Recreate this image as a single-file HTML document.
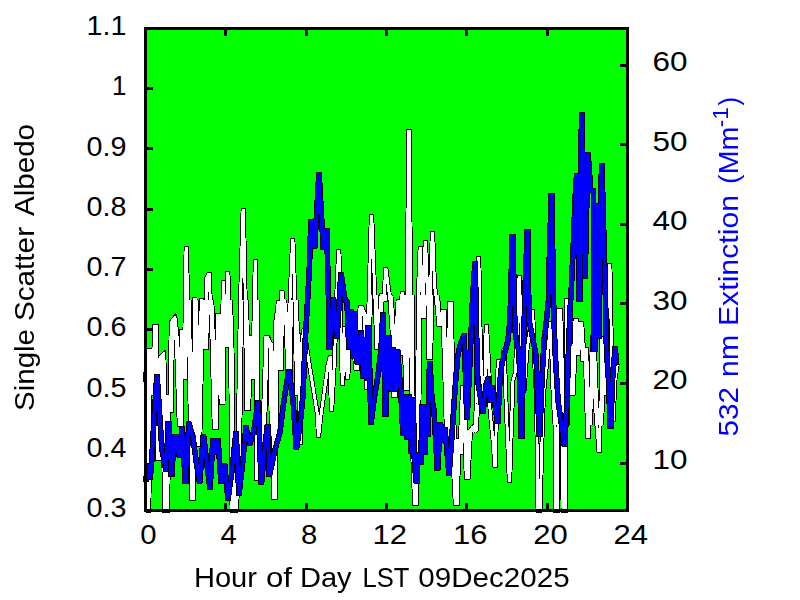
<!DOCTYPE html>
<html><head><meta charset="utf-8"><title>Single Scatter Albedo / Extinction</title>
<style>html,body{margin:0;padding:0;background:#fff;}svg{display:block;}text{font-family:"Liberation Sans",sans-serif;}</style></head>
<body>
<svg width="800" height="600" viewBox="0 0 800 600">
<rect x="0" y="0" width="800" height="600" fill="#ffffff"/>
<rect x="144" y="27" width="485" height="485" fill="#00ff00"/>
<defs><clipPath id="c"><rect x="144" y="27" width="485" height="485"/></clipPath><clipPath id="ck"><rect x="144" y="27" width="485" height="486"/></clipPath></defs>
<g shape-rendering="crispEdges" fill="#000">
<rect x="144" y="30" width="3" height="6"/><rect x="144" y="503" width="3" height="6"/><rect x="224" y="30" width="3" height="6"/><rect x="224" y="503" width="3" height="6"/><rect x="305" y="30" width="3" height="6"/><rect x="305" y="503" width="3" height="6"/><rect x="385" y="30" width="3" height="6"/><rect x="385" y="503" width="3" height="6"/><rect x="465" y="30" width="3" height="6"/><rect x="465" y="503" width="3" height="6"/><rect x="546" y="30" width="3" height="6"/><rect x="546" y="503" width="3" height="6"/><rect x="626" y="30" width="3" height="6"/><rect x="626" y="503" width="3" height="6"/>
<rect x="147" y="509" width="6" height="3"/><rect x="147" y="449" width="6" height="3"/><rect x="147" y="388" width="6" height="3"/><rect x="147" y="328" width="6" height="3"/><rect x="147" y="268" width="6" height="3"/><rect x="147" y="208" width="6" height="3"/><rect x="147" y="147" width="6" height="3"/><rect x="147" y="87" width="6" height="3"/><rect x="147" y="27" width="6" height="3"/>
<rect x="620" y="462" width="6" height="3"/><rect x="620" y="382" width="6" height="3"/><rect x="620" y="302" width="6" height="3"/><rect x="620" y="223" width="6" height="3"/><rect x="620" y="143" width="6" height="3"/><rect x="620" y="64" width="6" height="3"/>
</g>
<g shape-rendering="crispEdges" fill="none" stroke-linejoin="miter" stroke-miterlimit="3" stroke-linecap="square">
<defs><clipPath id="cw"><rect x="153" y="300" width="147" height="213"/><rect x="355" y="295" width="107" height="218"/><rect x="553" y="305" width="53" height="120"/><rect x="462" y="405" width="18" height="108"/></clipPath></defs>
<g clip-path="url(#ck)"><polyline points="146.0,376.0 147.2,350.0 147.8,350.0 148.4,515.0 148.9,515.0 150.5,350.0 151.0,350.0 152.2,394.0 152.8,394.0 154.5,326.0 155.0,326.0 157.2,458.5 157.8,458.5 160.5,357.0 162.5,355.0 164.5,515.0 166.2,515.0 167.6,396.0 168.1,396.0 169.2,411.0 169.8,411.0 171.2,322.0 173.7,319.0 176.5,345.0 179.2,425.0 179.8,425.0 181.2,331.5 181.8,331.5 183.8,378.0 184.2,378.0 186.0,248.0 186.5,248.0 189.5,380.0 191.8,498.5 192.2,498.5 194.6,299.0 195.1,299.0 197.8,444.5 198.2,444.5 201.2,300.0 201.8,300.0 204.8,348.0 205.2,348.0 206.5,278.5 208.8,274.0 209.2,274.0 212.0,340.0 214.2,428.0 214.8,428.0 217.6,315.0 218.1,315.0 221.1,403.0 221.6,403.0 223.2,282.0 223.8,282.0 225.2,346.0 225.8,346.0 227.5,273.0 228.0,273.0 230.5,340.0 232.0,515.0 234.0,515.0 236.0,494.0 238.0,460.0 239.5,350.0 241.0,280.0 243.0,210.0 243.5,210.0 245.3,300.0 246.8,408.5 247.2,408.5 249.2,337.5 249.8,337.5 252.2,377.5 252.8,377.5 255.2,261.0 255.7,261.0 256.8,479.0 257.2,479.0 261.0,455.0 263.0,430.0 265.9,337.5 266.4,337.5 268.7,342.5 270.3,345.0 271.2,434.5 271.8,434.5 272.6,352.0 273.1,352.0 273.6,498.0 274.1,498.0 275.3,325.0 277.0,312.5 278.2,302.5 278.8,302.5 279.2,368.5 279.8,368.5 281.8,292.0 282.2,292.0 286.0,325.0 288.2,380.0 288.8,380.0 290.0,300.0 292.5,240.0 293.0,240.0 295.7,325.0 296.2,394.0 296.8,394.0 297.8,335.0 298.2,335.0 299.8,443.0 300.2,443.0 302.0,340.0 303.8,330.0 304.2,330.0 307.0,350.0 317.5,415.0 318.2,435.5 318.8,435.5 321.0,415.0 328.0,365.0 329.8,357.5 330.2,357.5 331.2,410.0 331.8,410.0 334.5,360.0 336.5,300.0 338.5,251.0 339.0,251.0 341.0,330.0 342.2,383.5 342.8,383.5 344.8,328.5 345.2,328.5 347.2,378.0 347.8,378.0 350.0,345.0 351.8,335.0 352.2,335.0 355.8,368.5 356.2,368.5 360.0,307.5 360.5,307.5 364.5,316.5 366.2,388.0 366.8,388.0 369.0,300.0 371.2,216.0 371.8,216.0 375.0,300.0 376.8,347.5 377.2,347.5 381.0,295.5 381.5,295.5 383.2,300.0 383.8,300.0 385.6,269.0 386.1,269.0 390.0,300.0 392.0,330.0 393.8,396.0 394.2,396.0 396.0,330.0 398.0,301.0 398.5,301.0 399.8,353.5 400.2,353.5 402.0,293.0 402.5,293.0 405.8,389.0 406.2,389.0 407.5,250.0 408.8,131.5 409.2,131.5 410.8,300.0 411.5,392.5 412.5,450.0 414.5,503.5 415.0,503.5 417.5,410.0 418.0,345.0 418.5,290.0 420.0,248.8 420.5,248.8 422.8,316.5 423.2,316.5 425.1,242.0 425.6,242.0 428.0,300.0 428.8,357.5 429.2,357.5 430.5,290.0 432.2,233.8 432.8,233.8 434.5,285.0 436.5,300.0 438.8,325.0 439.2,325.0 442.2,311.5 442.8,311.5 444.5,365.0 446.0,420.0 447.2,452.0 447.8,452.0 449.2,303.0 449.8,303.0 452.0,400.0 454.0,480.0 455.2,504.0 455.8,504.0 457.8,440.0 458.2,440.0 459.2,453.0 459.8,453.0 462.5,387.5 463.0,387.5 466.2,477.5 466.8,477.5 469.0,432.0 472.0,428.0 474.5,432.0 476.5,403.5 477.5,300.0 478.4,258.8 478.9,258.8 480.3,340.0 481.5,372.0 484.2,393.5 484.8,393.5 486.1,326.0 486.6,326.0 489.0,370.0 490.0,410.0 493.0,440.0 494.8,465.5 495.2,465.5 497.0,395.0 498.2,361.0 498.8,361.0 500.5,375.0 502.0,372.0 503.8,350.0 504.2,350.0 506.0,400.0 508.0,450.0 509.2,480.5 509.8,480.5 511.0,440.0 513.0,380.0 515.0,374.5 517.0,340.0 519.0,277.0 519.5,277.0 521.5,340.0 523.8,390.0 524.2,390.0 527.0,350.0 530.0,330.0 532.2,311.5 532.8,311.5 534.0,350.0 536.5,400.0 538.0,515.0 540.0,515.0 542.0,440.0 543.5,395.0 546.0,370.0 549.0,340.0 550.2,323.5 550.8,323.5 553.3,400.0 555.3,430.0 555.6,515.0 557.4,515.0 558.8,310.5 559.2,310.5 562.5,430.0 563.0,515.0 565.5,515.0 566.5,350.0 566.4,300.5 566.9,300.5 569.0,350.0 571.2,393.5 571.8,393.5 575.0,320.0 575.5,320.0 576.8,353.5 577.2,353.5 579.8,323.0 580.2,323.0 582.8,360.0 583.2,360.0 584.8,349.5 585.2,349.5 586.5,400.0 587.8,437.0 588.2,437.0 590.0,400.0 591.5,380.0 592.2,337.5 592.8,337.5 595.0,400.0 598.8,450.5 599.2,450.5 601.0,400.0 601.8,338.0 602.2,338.0 604.8,393.5 605.2,393.5 607.0,330.0 609.5,265.5 610.0,265.5 611.5,350.0 612.8,420.0 613.2,420.0 615.0,380.0 617.0,366.0" stroke="#000" stroke-width="4.8"/></g>
<g clip-path="url(#ck)"><polyline clip-path="url(#cw)" points="147.5,376.0 148.8,350.0 149.2,350.0 149.9,515.0 150.4,515.0 152.0,350.0 152.5,350.0 153.8,394.0 154.2,394.0 156.0,326.0 156.5,326.0 158.8,458.5 159.2,458.5 162.0,357.0 164.0,355.0 166.0,515.0 167.7,515.0 169.1,396.0 169.6,396.0 170.8,411.0 171.2,411.0 172.7,322.0 175.2,319.0 178.0,345.0 180.8,425.0 181.2,425.0 182.8,331.5 183.2,331.5 185.2,378.0 185.8,378.0 187.5,248.0 188.0,248.0 191.0,380.0 193.2,498.5 193.8,498.5 196.1,299.0 196.6,299.0 199.2,444.5 199.8,444.5 202.8,300.0 203.2,300.0 206.2,348.0 206.8,348.0 208.0,278.5 210.2,274.0 210.8,274.0 213.5,340.0 215.8,428.0 216.2,428.0 219.1,315.0 219.6,315.0 222.6,403.0 223.1,403.0 224.8,282.0 225.2,282.0 226.8,346.0 227.2,346.0 229.0,273.0 229.5,273.0 232.0,340.0 233.5,515.0 235.5,515.0 237.5,494.0 239.5,460.0 241.0,350.0 242.5,280.0 244.5,210.0 245.0,210.0 246.8,300.0 248.2,408.5 248.8,408.5 250.8,337.5 251.2,337.5 253.8,377.5 254.2,377.5 256.6,261.0 257.1,261.0 258.2,479.0 258.8,479.0 262.5,455.0 264.5,430.0 267.4,337.5 267.9,337.5 270.2,342.5 271.8,345.0 272.8,434.5 273.2,434.5 274.1,352.0 274.6,352.0 275.1,498.0 275.6,498.0 276.8,325.0 278.5,312.5 279.8,302.5 280.2,302.5 280.8,368.5 281.2,368.5 283.2,292.0 283.8,292.0 287.5,325.0 289.8,380.0 290.2,380.0 291.5,300.0 294.0,240.0 294.5,240.0 297.2,325.0 297.8,394.0 298.2,394.0 299.2,335.0 299.8,335.0 301.2,443.0 301.8,443.0 303.5,340.0 305.2,330.0 305.8,330.0 308.5,350.0 319.0,415.0 319.8,435.5 320.2,435.5 322.5,415.0 329.5,365.0 331.2,357.5 331.8,357.5 332.8,410.0 333.2,410.0 336.0,360.0 338.0,300.0 340.0,251.0 340.5,251.0 342.5,330.0 343.8,383.5 344.2,383.5 346.2,328.5 346.8,328.5 348.8,378.0 349.2,378.0 351.5,345.0 353.2,335.0 353.8,335.0 357.2,368.5 357.8,368.5 361.5,307.5 362.0,307.5 366.0,316.5 367.8,388.0 368.2,388.0 370.5,300.0 372.8,216.0 373.2,216.0 376.5,300.0 378.2,347.5 378.8,347.5 382.5,295.5 383.0,295.5 384.8,300.0 385.2,300.0 387.1,269.0 387.6,269.0 391.5,300.0 393.5,330.0 395.2,396.0 395.8,396.0 397.5,330.0 399.5,301.0 400.0,301.0 401.2,353.5 401.8,353.5 403.5,293.0 404.0,293.0 407.2,389.0 407.8,389.0 409.0,250.0 410.2,131.5 410.8,131.5 412.3,300.0 413.0,392.5 414.0,450.0 416.0,503.5 416.5,503.5 419.0,410.0 419.5,345.0 420.0,290.0 421.5,248.8 422.0,248.8 424.2,316.5 424.8,316.5 426.6,242.0 427.1,242.0 429.5,300.0 430.2,357.5 430.8,357.5 432.0,290.0 433.8,233.8 434.2,233.8 436.0,285.0 438.0,300.0 440.2,325.0 440.8,325.0 443.8,311.5 444.2,311.5 446.0,365.0 447.5,420.0 448.8,452.0 449.2,452.0 450.8,303.0 451.2,303.0 453.5,400.0 455.5,480.0 456.8,504.0 457.2,504.0 459.2,440.0 459.8,440.0 460.8,453.0 461.2,453.0 464.0,387.5 464.5,387.5 467.8,477.5 468.2,477.5 470.5,432.0 473.5,428.0 476.0,432.0 478.0,403.5 479.0,300.0 479.9,258.8 480.4,258.8 481.8,340.0 483.0,372.0 485.8,393.5 486.2,393.5 487.6,326.0 488.1,326.0 490.5,370.0 491.5,410.0 494.5,440.0 496.2,465.5 496.8,465.5 498.5,395.0 499.8,361.0 500.2,361.0 502.0,375.0 503.5,372.0 505.2,350.0 505.8,350.0 507.5,400.0 509.5,450.0 510.8,480.5 511.2,480.5 512.5,440.0 514.5,380.0 516.5,374.5 518.5,340.0 520.5,277.0 521.0,277.0 523.0,340.0 525.2,390.0 525.8,390.0 528.5,350.0 531.5,330.0 533.8,311.5 534.2,311.5 535.5,350.0 538.0,400.0 539.5,515.0 541.5,515.0 543.5,440.0 545.0,395.0 547.5,370.0 550.5,340.0 551.8,323.5 552.2,323.5 554.8,400.0 556.8,430.0 557.1,515.0 558.9,515.0 560.2,310.5 560.8,310.5 564.0,430.0 564.5,515.0 567.0,515.0 568.0,350.0 567.9,300.5 568.4,300.5 570.5,350.0 572.8,393.5 573.2,393.5 576.5,320.0 577.0,320.0 578.2,353.5 578.8,353.5 581.2,323.0 581.8,323.0 584.2,360.0 584.8,360.0 586.2,349.5 586.8,349.5 588.0,400.0 589.2,437.0 589.8,437.0 591.5,400.0 593.0,380.0 593.8,337.5 594.2,337.5 596.5,400.0 600.2,450.5 600.8,450.5 602.5,400.0 603.2,338.0 603.8,338.0 606.2,393.5 606.8,393.5 608.5,330.0 611.0,265.5 611.5,265.5 613.0,350.0 614.2,420.0 614.8,420.0 616.5,380.0 618.5,366.0" stroke="#000" stroke-width="4.8"/></g>
<g clip-path="url(#c)"><polyline points="146.0,376.0 147.2,350.0 147.8,350.0 148.4,515.0 148.9,515.0 150.5,350.0 151.0,350.0 152.2,394.0 152.8,394.0 154.5,326.0 155.0,326.0 157.2,458.5 157.8,458.5 160.5,357.0 162.5,355.0 164.5,515.0 166.2,515.0 167.6,396.0 168.1,396.0 169.2,411.0 169.8,411.0 171.2,322.0 173.7,319.0 176.5,345.0 179.2,425.0 179.8,425.0 181.2,331.5 181.8,331.5 183.8,378.0 184.2,378.0 186.0,248.0 186.5,248.0 189.5,380.0 191.8,498.5 192.2,498.5 194.6,299.0 195.1,299.0 197.8,444.5 198.2,444.5 201.2,300.0 201.8,300.0 204.8,348.0 205.2,348.0 206.5,278.5 208.8,274.0 209.2,274.0 212.0,340.0 214.2,428.0 214.8,428.0 217.6,315.0 218.1,315.0 221.1,403.0 221.6,403.0 223.2,282.0 223.8,282.0 225.2,346.0 225.8,346.0 227.5,273.0 228.0,273.0 230.5,340.0 232.0,515.0 234.0,515.0 236.0,494.0 238.0,460.0 239.5,350.0 241.0,280.0 243.0,210.0 243.5,210.0 245.3,300.0 246.8,408.5 247.2,408.5 249.2,337.5 249.8,337.5 252.2,377.5 252.8,377.5 255.2,261.0 255.7,261.0 256.8,479.0 257.2,479.0 261.0,455.0 263.0,430.0 265.9,337.5 266.4,337.5 268.7,342.5 270.3,345.0 271.2,434.5 271.8,434.5 272.6,352.0 273.1,352.0 273.6,498.0 274.1,498.0 275.3,325.0 277.0,312.5 278.2,302.5 278.8,302.5 279.2,368.5 279.8,368.5 281.8,292.0 282.2,292.0 286.0,325.0 288.2,380.0 288.8,380.0 290.0,300.0 292.5,240.0 293.0,240.0 295.7,325.0 296.2,394.0 296.8,394.0 297.8,335.0 298.2,335.0 299.8,443.0 300.2,443.0 302.0,340.0 303.8,330.0 304.2,330.0 307.0,350.0 317.5,415.0 318.2,435.5 318.8,435.5 321.0,415.0 328.0,365.0 329.8,357.5 330.2,357.5 331.2,410.0 331.8,410.0 334.5,360.0 336.5,300.0 338.5,251.0 339.0,251.0 341.0,330.0 342.2,383.5 342.8,383.5 344.8,328.5 345.2,328.5 347.2,378.0 347.8,378.0 350.0,345.0 351.8,335.0 352.2,335.0 355.8,368.5 356.2,368.5 360.0,307.5 360.5,307.5 364.5,316.5 366.2,388.0 366.8,388.0 369.0,300.0 371.2,216.0 371.8,216.0 375.0,300.0 376.8,347.5 377.2,347.5 381.0,295.5 381.5,295.5 383.2,300.0 383.8,300.0 385.6,269.0 386.1,269.0 390.0,300.0 392.0,330.0 393.8,396.0 394.2,396.0 396.0,330.0 398.0,301.0 398.5,301.0 399.8,353.5 400.2,353.5 402.0,293.0 402.5,293.0 405.8,389.0 406.2,389.0 407.5,250.0 408.8,131.5 409.2,131.5 410.8,300.0 411.5,392.5 412.5,450.0 414.5,503.5 415.0,503.5 417.5,410.0 418.0,345.0 418.5,290.0 420.0,248.8 420.5,248.8 422.8,316.5 423.2,316.5 425.1,242.0 425.6,242.0 428.0,300.0 428.8,357.5 429.2,357.5 430.5,290.0 432.2,233.8 432.8,233.8 434.5,285.0 436.5,300.0 438.8,325.0 439.2,325.0 442.2,311.5 442.8,311.5 444.5,365.0 446.0,420.0 447.2,452.0 447.8,452.0 449.2,303.0 449.8,303.0 452.0,400.0 454.0,480.0 455.2,504.0 455.8,504.0 457.8,440.0 458.2,440.0 459.2,453.0 459.8,453.0 462.5,387.5 463.0,387.5 466.2,477.5 466.8,477.5 469.0,432.0 472.0,428.0 474.5,432.0 476.5,403.5 477.5,300.0 478.4,258.8 478.9,258.8 480.3,340.0 481.5,372.0 484.2,393.5 484.8,393.5 486.1,326.0 486.6,326.0 489.0,370.0 490.0,410.0 493.0,440.0 494.8,465.5 495.2,465.5 497.0,395.0 498.2,361.0 498.8,361.0 500.5,375.0 502.0,372.0 503.8,350.0 504.2,350.0 506.0,400.0 508.0,450.0 509.2,480.5 509.8,480.5 511.0,440.0 513.0,380.0 515.0,374.5 517.0,340.0 519.0,277.0 519.5,277.0 521.5,340.0 523.8,390.0 524.2,390.0 527.0,350.0 530.0,330.0 532.2,311.5 532.8,311.5 534.0,350.0 536.5,400.0 538.0,515.0 540.0,515.0 542.0,440.0 543.5,395.0 546.0,370.0 549.0,340.0 550.2,323.5 550.8,323.5 553.3,400.0 555.3,430.0 555.6,515.0 557.4,515.0 558.8,310.5 559.2,310.5 562.5,430.0 563.0,515.0 565.5,515.0 566.5,350.0 566.4,300.5 566.9,300.5 569.0,350.0 571.2,393.5 571.8,393.5 575.0,320.0 575.5,320.0 576.8,353.5 577.2,353.5 579.8,323.0 580.2,323.0 582.8,360.0 583.2,360.0 584.8,349.5 585.2,349.5 586.5,400.0 587.8,437.0 588.2,437.0 590.0,400.0 591.5,380.0 592.2,337.5 592.8,337.5 595.0,400.0 598.8,450.5 599.2,450.5 601.0,400.0 601.8,338.0 602.2,338.0 604.8,393.5 605.2,393.5 607.0,330.0 609.5,265.5 610.0,265.5 611.5,350.0 612.8,420.0 613.2,420.0 615.0,380.0 617.0,366.0" stroke="#fff" stroke-width="2.9"/></g>
<g clip-path="url(#c)"><polyline clip-path="url(#cw)" points="147.5,376.0 148.8,350.0 149.2,350.0 149.9,515.0 150.4,515.0 152.0,350.0 152.5,350.0 153.8,394.0 154.2,394.0 156.0,326.0 156.5,326.0 158.8,458.5 159.2,458.5 162.0,357.0 164.0,355.0 166.0,515.0 167.7,515.0 169.1,396.0 169.6,396.0 170.8,411.0 171.2,411.0 172.7,322.0 175.2,319.0 178.0,345.0 180.8,425.0 181.2,425.0 182.8,331.5 183.2,331.5 185.2,378.0 185.8,378.0 187.5,248.0 188.0,248.0 191.0,380.0 193.2,498.5 193.8,498.5 196.1,299.0 196.6,299.0 199.2,444.5 199.8,444.5 202.8,300.0 203.2,300.0 206.2,348.0 206.8,348.0 208.0,278.5 210.2,274.0 210.8,274.0 213.5,340.0 215.8,428.0 216.2,428.0 219.1,315.0 219.6,315.0 222.6,403.0 223.1,403.0 224.8,282.0 225.2,282.0 226.8,346.0 227.2,346.0 229.0,273.0 229.5,273.0 232.0,340.0 233.5,515.0 235.5,515.0 237.5,494.0 239.5,460.0 241.0,350.0 242.5,280.0 244.5,210.0 245.0,210.0 246.8,300.0 248.2,408.5 248.8,408.5 250.8,337.5 251.2,337.5 253.8,377.5 254.2,377.5 256.6,261.0 257.1,261.0 258.2,479.0 258.8,479.0 262.5,455.0 264.5,430.0 267.4,337.5 267.9,337.5 270.2,342.5 271.8,345.0 272.8,434.5 273.2,434.5 274.1,352.0 274.6,352.0 275.1,498.0 275.6,498.0 276.8,325.0 278.5,312.5 279.8,302.5 280.2,302.5 280.8,368.5 281.2,368.5 283.2,292.0 283.8,292.0 287.5,325.0 289.8,380.0 290.2,380.0 291.5,300.0 294.0,240.0 294.5,240.0 297.2,325.0 297.8,394.0 298.2,394.0 299.2,335.0 299.8,335.0 301.2,443.0 301.8,443.0 303.5,340.0 305.2,330.0 305.8,330.0 308.5,350.0 319.0,415.0 319.8,435.5 320.2,435.5 322.5,415.0 329.5,365.0 331.2,357.5 331.8,357.5 332.8,410.0 333.2,410.0 336.0,360.0 338.0,300.0 340.0,251.0 340.5,251.0 342.5,330.0 343.8,383.5 344.2,383.5 346.2,328.5 346.8,328.5 348.8,378.0 349.2,378.0 351.5,345.0 353.2,335.0 353.8,335.0 357.2,368.5 357.8,368.5 361.5,307.5 362.0,307.5 366.0,316.5 367.8,388.0 368.2,388.0 370.5,300.0 372.8,216.0 373.2,216.0 376.5,300.0 378.2,347.5 378.8,347.5 382.5,295.5 383.0,295.5 384.8,300.0 385.2,300.0 387.1,269.0 387.6,269.0 391.5,300.0 393.5,330.0 395.2,396.0 395.8,396.0 397.5,330.0 399.5,301.0 400.0,301.0 401.2,353.5 401.8,353.5 403.5,293.0 404.0,293.0 407.2,389.0 407.8,389.0 409.0,250.0 410.2,131.5 410.8,131.5 412.3,300.0 413.0,392.5 414.0,450.0 416.0,503.5 416.5,503.5 419.0,410.0 419.5,345.0 420.0,290.0 421.5,248.8 422.0,248.8 424.2,316.5 424.8,316.5 426.6,242.0 427.1,242.0 429.5,300.0 430.2,357.5 430.8,357.5 432.0,290.0 433.8,233.8 434.2,233.8 436.0,285.0 438.0,300.0 440.2,325.0 440.8,325.0 443.8,311.5 444.2,311.5 446.0,365.0 447.5,420.0 448.8,452.0 449.2,452.0 450.8,303.0 451.2,303.0 453.5,400.0 455.5,480.0 456.8,504.0 457.2,504.0 459.2,440.0 459.8,440.0 460.8,453.0 461.2,453.0 464.0,387.5 464.5,387.5 467.8,477.5 468.2,477.5 470.5,432.0 473.5,428.0 476.0,432.0 478.0,403.5 479.0,300.0 479.9,258.8 480.4,258.8 481.8,340.0 483.0,372.0 485.8,393.5 486.2,393.5 487.6,326.0 488.1,326.0 490.5,370.0 491.5,410.0 494.5,440.0 496.2,465.5 496.8,465.5 498.5,395.0 499.8,361.0 500.2,361.0 502.0,375.0 503.5,372.0 505.2,350.0 505.8,350.0 507.5,400.0 509.5,450.0 510.8,480.5 511.2,480.5 512.5,440.0 514.5,380.0 516.5,374.5 518.5,340.0 520.5,277.0 521.0,277.0 523.0,340.0 525.2,390.0 525.8,390.0 528.5,350.0 531.5,330.0 533.8,311.5 534.2,311.5 535.5,350.0 538.0,400.0 539.5,515.0 541.5,515.0 543.5,440.0 545.0,395.0 547.5,370.0 550.5,340.0 551.8,323.5 552.2,323.5 554.8,400.0 556.8,430.0 557.1,515.0 558.9,515.0 560.2,310.5 560.8,310.5 564.0,430.0 564.5,515.0 567.0,515.0 568.0,350.0 567.9,300.5 568.4,300.5 570.5,350.0 572.8,393.5 573.2,393.5 576.5,320.0 577.0,320.0 578.2,353.5 578.8,353.5 581.2,323.0 581.8,323.0 584.2,360.0 584.8,360.0 586.2,349.5 586.8,349.5 588.0,400.0 589.2,437.0 589.8,437.0 591.5,400.0 593.0,380.0 593.8,337.5 594.2,337.5 596.5,400.0 600.2,450.5 600.8,450.5 602.5,400.0 603.2,338.0 603.8,338.0 606.2,393.5 606.8,393.5 608.5,330.0 611.0,265.5 611.5,265.5 613.0,350.0 614.2,420.0 614.8,420.0 616.5,380.0 618.5,366.0" stroke="#fff" stroke-width="2.9"/></g>
<g clip-path="url(#c)"><polyline points="146.0,479.0 147.8,466.0 148.2,466.0 149.8,477.0 150.2,477.0 151.5,465.0 154.0,420.0 156.8,376.5 157.2,376.5 160.0,420.0 162.0,450.0 165.8,469.5 166.2,469.5 168.2,424.0 168.8,424.0 171.2,474.5 171.8,474.5 174.2,437.0 174.8,437.0 175.8,451.0 176.2,451.0 177.2,437.0 177.8,437.0 179.2,455.0 179.8,455.0 181.8,429.0 182.2,429.0 185.2,481.0 185.8,481.0 188.8,424.0 189.2,424.0 193.0,437.0 196.0,460.0 199.2,481.0 199.8,481.0 203.2,437.0 203.8,437.0 207.0,465.0 209.8,487.0 210.2,487.0 212.8,441.0 213.2,441.0 215.8,452.0 216.2,452.0 217.8,441.0 218.2,441.0 220.8,481.0 221.2,481.0 224.2,466.0 224.8,466.0 227.8,498.0 228.2,498.0 232.0,470.0 235.8,434.0 236.2,434.0 238.8,493.0 239.2,493.0 243.0,460.0 245.8,428.0 246.2,428.0 249.8,443.0 250.2,443.0 254.0,430.0 257.8,402.5 258.2,402.5 261.1,482.5 261.6,482.5 264.5,450.0 267.2,427.0 267.8,427.0 269.2,474.0 269.8,474.0 275.0,450.0 280.0,432.0 284.0,400.0 288.5,372.0 289.0,372.0 293.0,400.0 296.2,447.0 296.8,447.0 300.0,425.0 303.0,395.0 305.0,345.0 309.3,270.0 310.8,221.5 311.2,221.5 314.2,246.0 314.8,246.0 318.8,174.5 319.2,174.5 323.2,247.0 323.8,247.0 326.2,230.5 326.8,230.5 328.5,300.0 329.2,347.0 329.8,347.0 333.0,300.0 333.5,300.0 336.8,336.0 337.2,336.0 340.8,274.5 341.2,274.5 345.0,300.0 347.0,302.0 348.8,347.0 349.2,347.0 350.8,312.0 351.2,312.0 352.8,356.0 353.2,356.0 354.6,314.0 355.1,314.0 356.3,352.0 357.2,362.0 357.8,362.0 359.0,345.0 360.8,333.0 361.2,333.0 362.8,376.0 363.2,376.0 364.8,340.0 365.2,340.0 366.8,378.0 367.2,378.0 368.2,327.5 368.8,327.5 370.8,422.5 371.2,422.5 374.0,400.0 378.0,375.0 381.0,350.0 382.8,314.5 383.2,314.5 385.2,414.5 385.8,414.5 388.2,338.0 388.8,338.0 390.8,389.0 391.2,389.0 392.8,350.0 393.2,350.0 395.8,389.0 396.2,389.0 397.2,352.0 397.8,352.0 401.0,395.0 402.8,433.0 403.2,433.0 404.8,397.0 405.2,397.0 406.8,437.0 407.2,437.0 408.8,397.0 409.2,397.0 410.8,451.0 411.2,451.0 412.8,400.0 413.2,400.0 414.5,465.0 416.2,481.0 416.8,481.0 418.2,455.0 418.8,455.0 420.2,462.0 420.8,462.0 422.2,407.0 422.8,407.0 424.2,452.0 424.8,452.0 425.8,407.0 426.2,407.0 427.2,434.0 427.8,434.0 429.5,363.5 430.0,363.5 432.0,400.0 434.0,410.0 437.2,468.0 437.8,468.0 440.2,425.0 440.8,425.0 442.8,440.0 443.2,440.0 444.8,430.0 445.2,430.0 448.8,473.0 449.2,473.0 452.0,435.0 455.0,390.0 457.5,358.0 460.0,345.0 463.8,335.5 464.2,335.5 466.8,417.0 467.2,417.0 470.0,360.0 472.5,300.0 474.8,264.0 475.2,264.0 477.5,380.0 480.0,395.0 482.8,411.0 483.2,411.0 486.0,385.0 487.8,379.0 488.2,379.0 489.8,400.0 490.2,400.0 491.8,388.0 492.2,388.0 495.0,405.0 497.2,421.0 497.8,421.0 500.0,380.0 502.0,363.0 505.5,350.0 508.0,340.0 510.0,320.0 512.2,237.0 512.8,237.0 515.0,330.0 517.0,345.0 519.0,350.0 521.2,436.0 521.8,436.0 523.5,350.0 525.0,290.0 527.2,231.5 527.8,231.5 529.0,320.0 532.0,335.0 536.0,355.0 539.2,434.5 539.8,434.5 542.0,380.0 544.0,340.0 546.0,325.0 548.5,300.0 549.5,250.0 551.2,196.0 551.8,196.0 553.5,300.0 555.0,350.0 558.0,400.0 564.2,444.5 564.8,444.5 567.0,400.0 568.5,350.0 570.0,312.0 571.5,285.0 573.5,240.0 575.0,200.0 576.5,176.0 577.0,176.0 579.2,299.5 579.8,299.5 581.5,115.0 582.0,115.0 584.8,276.0 585.2,276.0 587.8,155.2 588.2,155.2 590.8,190.5 593.6,190.5 594.2,349.5 594.8,349.5 596.2,206.0 596.8,206.0 598.2,336.0 598.8,336.0 601.5,166.0 602.0,166.0 605.5,300.0 606.5,350.0 608.5,380.0 610.2,426.0 610.8,426.0 612.5,380.0 615.0,349.0 615.5,349.0 616.0,362.0" stroke="#000" stroke-width="5.7"/></g>
<g clip-path="url(#c)"><polyline points="146.0,479.0 147.8,466.0 148.2,466.0 149.8,477.0 150.2,477.0 151.5,465.0 154.0,420.0 156.8,376.5 157.2,376.5 160.0,420.0 162.0,450.0 165.8,469.5 166.2,469.5 168.2,424.0 168.8,424.0 171.2,474.5 171.8,474.5 174.2,437.0 174.8,437.0 175.8,451.0 176.2,451.0 177.2,437.0 177.8,437.0 179.2,455.0 179.8,455.0 181.8,429.0 182.2,429.0 185.2,481.0 185.8,481.0 188.8,424.0 189.2,424.0 193.0,437.0 196.0,460.0 199.2,481.0 199.8,481.0 203.2,437.0 203.8,437.0 207.0,465.0 209.8,487.0 210.2,487.0 212.8,441.0 213.2,441.0 215.8,452.0 216.2,452.0 217.8,441.0 218.2,441.0 220.8,481.0 221.2,481.0 224.2,466.0 224.8,466.0 227.8,498.0 228.2,498.0 232.0,470.0 235.8,434.0 236.2,434.0 238.8,493.0 239.2,493.0 243.0,460.0 245.8,428.0 246.2,428.0 249.8,443.0 250.2,443.0 254.0,430.0 257.8,402.5 258.2,402.5 261.1,482.5 261.6,482.5 264.5,450.0 267.2,427.0 267.8,427.0 269.2,474.0 269.8,474.0 275.0,450.0 280.0,432.0 284.0,400.0 288.5,372.0 289.0,372.0 293.0,400.0 296.2,447.0 296.8,447.0 300.0,425.0 303.0,395.0 305.0,345.0 309.3,270.0 310.8,221.5 311.2,221.5 314.2,246.0 314.8,246.0 318.8,174.5 319.2,174.5 323.2,247.0 323.8,247.0 326.2,230.5 326.8,230.5 328.5,300.0 329.2,347.0 329.8,347.0 333.0,300.0 333.5,300.0 336.8,336.0 337.2,336.0 340.8,274.5 341.2,274.5 345.0,300.0 347.0,302.0 348.8,347.0 349.2,347.0 350.8,312.0 351.2,312.0 352.8,356.0 353.2,356.0 354.6,314.0 355.1,314.0 356.3,352.0 357.2,362.0 357.8,362.0 359.0,345.0 360.8,333.0 361.2,333.0 362.8,376.0 363.2,376.0 364.8,340.0 365.2,340.0 366.8,378.0 367.2,378.0 368.2,327.5 368.8,327.5 370.8,422.5 371.2,422.5 374.0,400.0 378.0,375.0 381.0,350.0 382.8,314.5 383.2,314.5 385.2,414.5 385.8,414.5 388.2,338.0 388.8,338.0 390.8,389.0 391.2,389.0 392.8,350.0 393.2,350.0 395.8,389.0 396.2,389.0 397.2,352.0 397.8,352.0 401.0,395.0 402.8,433.0 403.2,433.0 404.8,397.0 405.2,397.0 406.8,437.0 407.2,437.0 408.8,397.0 409.2,397.0 410.8,451.0 411.2,451.0 412.8,400.0 413.2,400.0 414.5,465.0 416.2,481.0 416.8,481.0 418.2,455.0 418.8,455.0 420.2,462.0 420.8,462.0 422.2,407.0 422.8,407.0 424.2,452.0 424.8,452.0 425.8,407.0 426.2,407.0 427.2,434.0 427.8,434.0 429.5,363.5 430.0,363.5 432.0,400.0 434.0,410.0 437.2,468.0 437.8,468.0 440.2,425.0 440.8,425.0 442.8,440.0 443.2,440.0 444.8,430.0 445.2,430.0 448.8,473.0 449.2,473.0 452.0,435.0 455.0,390.0 457.5,358.0 460.0,345.0 463.8,335.5 464.2,335.5 466.8,417.0 467.2,417.0 470.0,360.0 472.5,300.0 474.8,264.0 475.2,264.0 477.5,380.0 480.0,395.0 482.8,411.0 483.2,411.0 486.0,385.0 487.8,379.0 488.2,379.0 489.8,400.0 490.2,400.0 491.8,388.0 492.2,388.0 495.0,405.0 497.2,421.0 497.8,421.0 500.0,380.0 502.0,363.0 505.5,350.0 508.0,340.0 510.0,320.0 512.2,237.0 512.8,237.0 515.0,330.0 517.0,345.0 519.0,350.0 521.2,436.0 521.8,436.0 523.5,350.0 525.0,290.0 527.2,231.5 527.8,231.5 529.0,320.0 532.0,335.0 536.0,355.0 539.2,434.5 539.8,434.5 542.0,380.0 544.0,340.0 546.0,325.0 548.5,300.0 549.5,250.0 551.2,196.0 551.8,196.0 553.5,300.0 555.0,350.0 558.0,400.0 564.2,444.5 564.8,444.5 567.0,400.0 568.5,350.0 570.0,312.0 571.5,285.0 573.5,240.0 575.0,200.0 576.5,176.0 577.0,176.0 579.2,299.5 579.8,299.5 581.5,115.0 582.0,115.0 584.8,276.0 585.2,276.0 587.8,155.2 588.2,155.2 590.8,190.5 593.6,190.5 594.2,349.5 594.8,349.5 596.2,206.0 596.8,206.0 598.2,336.0 598.8,336.0 601.5,166.0 602.0,166.0 605.5,300.0 606.5,350.0 608.5,380.0 610.2,426.0 610.8,426.0 612.5,380.0 615.0,349.0 615.5,349.0 616.0,362.0" stroke="#0000ff" stroke-width="3.8"/></g>
</g>
<g shape-rendering="crispEdges" fill="#000">
<rect x="143" y="372" width="2" height="10"/><rect x="143" y="476" width="2" height="6"/><rect x="144" y="27" width="485" height="3"/><rect x="144" y="509" width="485" height="3"/><rect x="144" y="27" width="3" height="485"/><rect x="626" y="27" width="3" height="485"/>

</g>
<g font-family="Liberation Sans, sans-serif" font-size="28" fill="#000" opacity="0.999">
<text x="86.6" y="517.0" textLength="39.9" lengthAdjust="spacingAndGlyphs">0.3</text><text x="86.6" y="456.8" textLength="39.9" lengthAdjust="spacingAndGlyphs">0.4</text><text x="86.6" y="396.5" textLength="39.9" lengthAdjust="spacingAndGlyphs">0.5</text><text x="86.6" y="336.2" textLength="39.9" lengthAdjust="spacingAndGlyphs">0.6</text><text x="86.6" y="276.0" textLength="39.9" lengthAdjust="spacingAndGlyphs">0.7</text><text x="86.6" y="215.8" textLength="39.9" lengthAdjust="spacingAndGlyphs">0.8</text><text x="86.6" y="155.5" textLength="39.9" lengthAdjust="spacingAndGlyphs">0.9</text><text x="112.1" y="95.3" textLength="14.4" lengthAdjust="spacingAndGlyphs">1</text><text x="86.6" y="35.0" textLength="39.9" lengthAdjust="spacingAndGlyphs">1.1</text>
<text x="652.5" y="468.9" textLength="35" lengthAdjust="spacingAndGlyphs">10</text><text x="652.5" y="389.3" textLength="35" lengthAdjust="spacingAndGlyphs">20</text><text x="652.5" y="309.7" textLength="35" lengthAdjust="spacingAndGlyphs">30</text><text x="652.5" y="230.1" textLength="35" lengthAdjust="spacingAndGlyphs">40</text><text x="652.5" y="150.5" textLength="35" lengthAdjust="spacingAndGlyphs">50</text><text x="652.5" y="70.9" textLength="35" lengthAdjust="spacingAndGlyphs">60</text>
<text x="140.2" y="544.3" textLength="16.3" lengthAdjust="spacingAndGlyphs">0</text><text x="220.6" y="544.3" textLength="16.3" lengthAdjust="spacingAndGlyphs">4</text><text x="300.9" y="544.3" textLength="16.3" lengthAdjust="spacingAndGlyphs">8</text><text x="372.6" y="544.3" textLength="34.5" lengthAdjust="spacingAndGlyphs">12</text><text x="452.9" y="544.3" textLength="34.5" lengthAdjust="spacingAndGlyphs">16</text><text x="533.2" y="544.3" textLength="34.5" lengthAdjust="spacingAndGlyphs">20</text><text x="613.5" y="544.3" textLength="34.5" lengthAdjust="spacingAndGlyphs">24</text>
</g>
<g opacity="0.999">
<text font-family="Liberation Sans, sans-serif" font-size="28" fill="#000" x="193.93" y="587.00" textLength="63.07" lengthAdjust="spacingAndGlyphs">Hour</text>
<text font-family="Liberation Sans, sans-serif" font-size="28" fill="#000" x="265.98" y="587.00" textLength="26.02" lengthAdjust="spacingAndGlyphs">of</text>
<text font-family="Liberation Sans, sans-serif" font-size="28" fill="#000" x="299.92" y="587.00" textLength="51.68" lengthAdjust="spacingAndGlyphs">Day</text>
<text font-family="Liberation Sans, sans-serif" font-size="28" fill="#000" x="362.54" y="587.00" textLength="46.89" lengthAdjust="spacingAndGlyphs">LST</text>
<text font-family="Liberation Sans, sans-serif" font-size="28" fill="#000" x="418.39" y="587.00" textLength="151.23" lengthAdjust="spacingAndGlyphs">09Dec2025</text>
<text font-family="Liberation Sans, sans-serif" font-size="28" fill="#000" transform="translate(33.90,411.07) rotate(-90)" textLength="82.13" lengthAdjust="spacingAndGlyphs">Single</text>
<text font-family="Liberation Sans, sans-serif" font-size="28" fill="#000" transform="translate(33.90,321.04) rotate(-90)" textLength="94.06" lengthAdjust="spacingAndGlyphs">Scatter</text>
<text font-family="Liberation Sans, sans-serif" font-size="28" fill="#000" transform="translate(33.90,216.00) rotate(-90)" textLength="92.03" lengthAdjust="spacingAndGlyphs">Albedo</text>
<text font-family="Liberation Sans, sans-serif" font-size="28" fill="#0000ff" transform="translate(737.80,436.50) rotate(-90)" textLength="49.57" lengthAdjust="spacingAndGlyphs">532</text>
<text font-family="Liberation Sans, sans-serif" font-size="28" fill="#0000ff" transform="translate(737.80,377.36) rotate(-90)" textLength="42.69" lengthAdjust="spacingAndGlyphs">nm</text>
<text font-family="Liberation Sans, sans-serif" font-size="28" fill="#0000ff" transform="translate(737.80,326.05) rotate(-90)" textLength="131.10" lengthAdjust="spacingAndGlyphs">Extinction</text>
<text font-family="Liberation Sans, sans-serif" font-size="28" fill="#0000ff" transform="translate(737.80,183.89) rotate(-90)" textLength="57.19" lengthAdjust="spacingAndGlyphs">(Mm</text>
<text font-family="Liberation Sans, sans-serif" font-size="28" fill="#0000ff" transform="translate(737.80,105.55) rotate(-90)" textLength="8.45" lengthAdjust="spacingAndGlyphs">)</text>
<text font-family="Liberation Sans, sans-serif" font-size="21.5" fill="#0000ff" transform="translate(728.20,127.25) rotate(-90)" textLength="20.18" lengthAdjust="spacingAndGlyphs">-1</text>
</g>
</svg>
</body></html>
